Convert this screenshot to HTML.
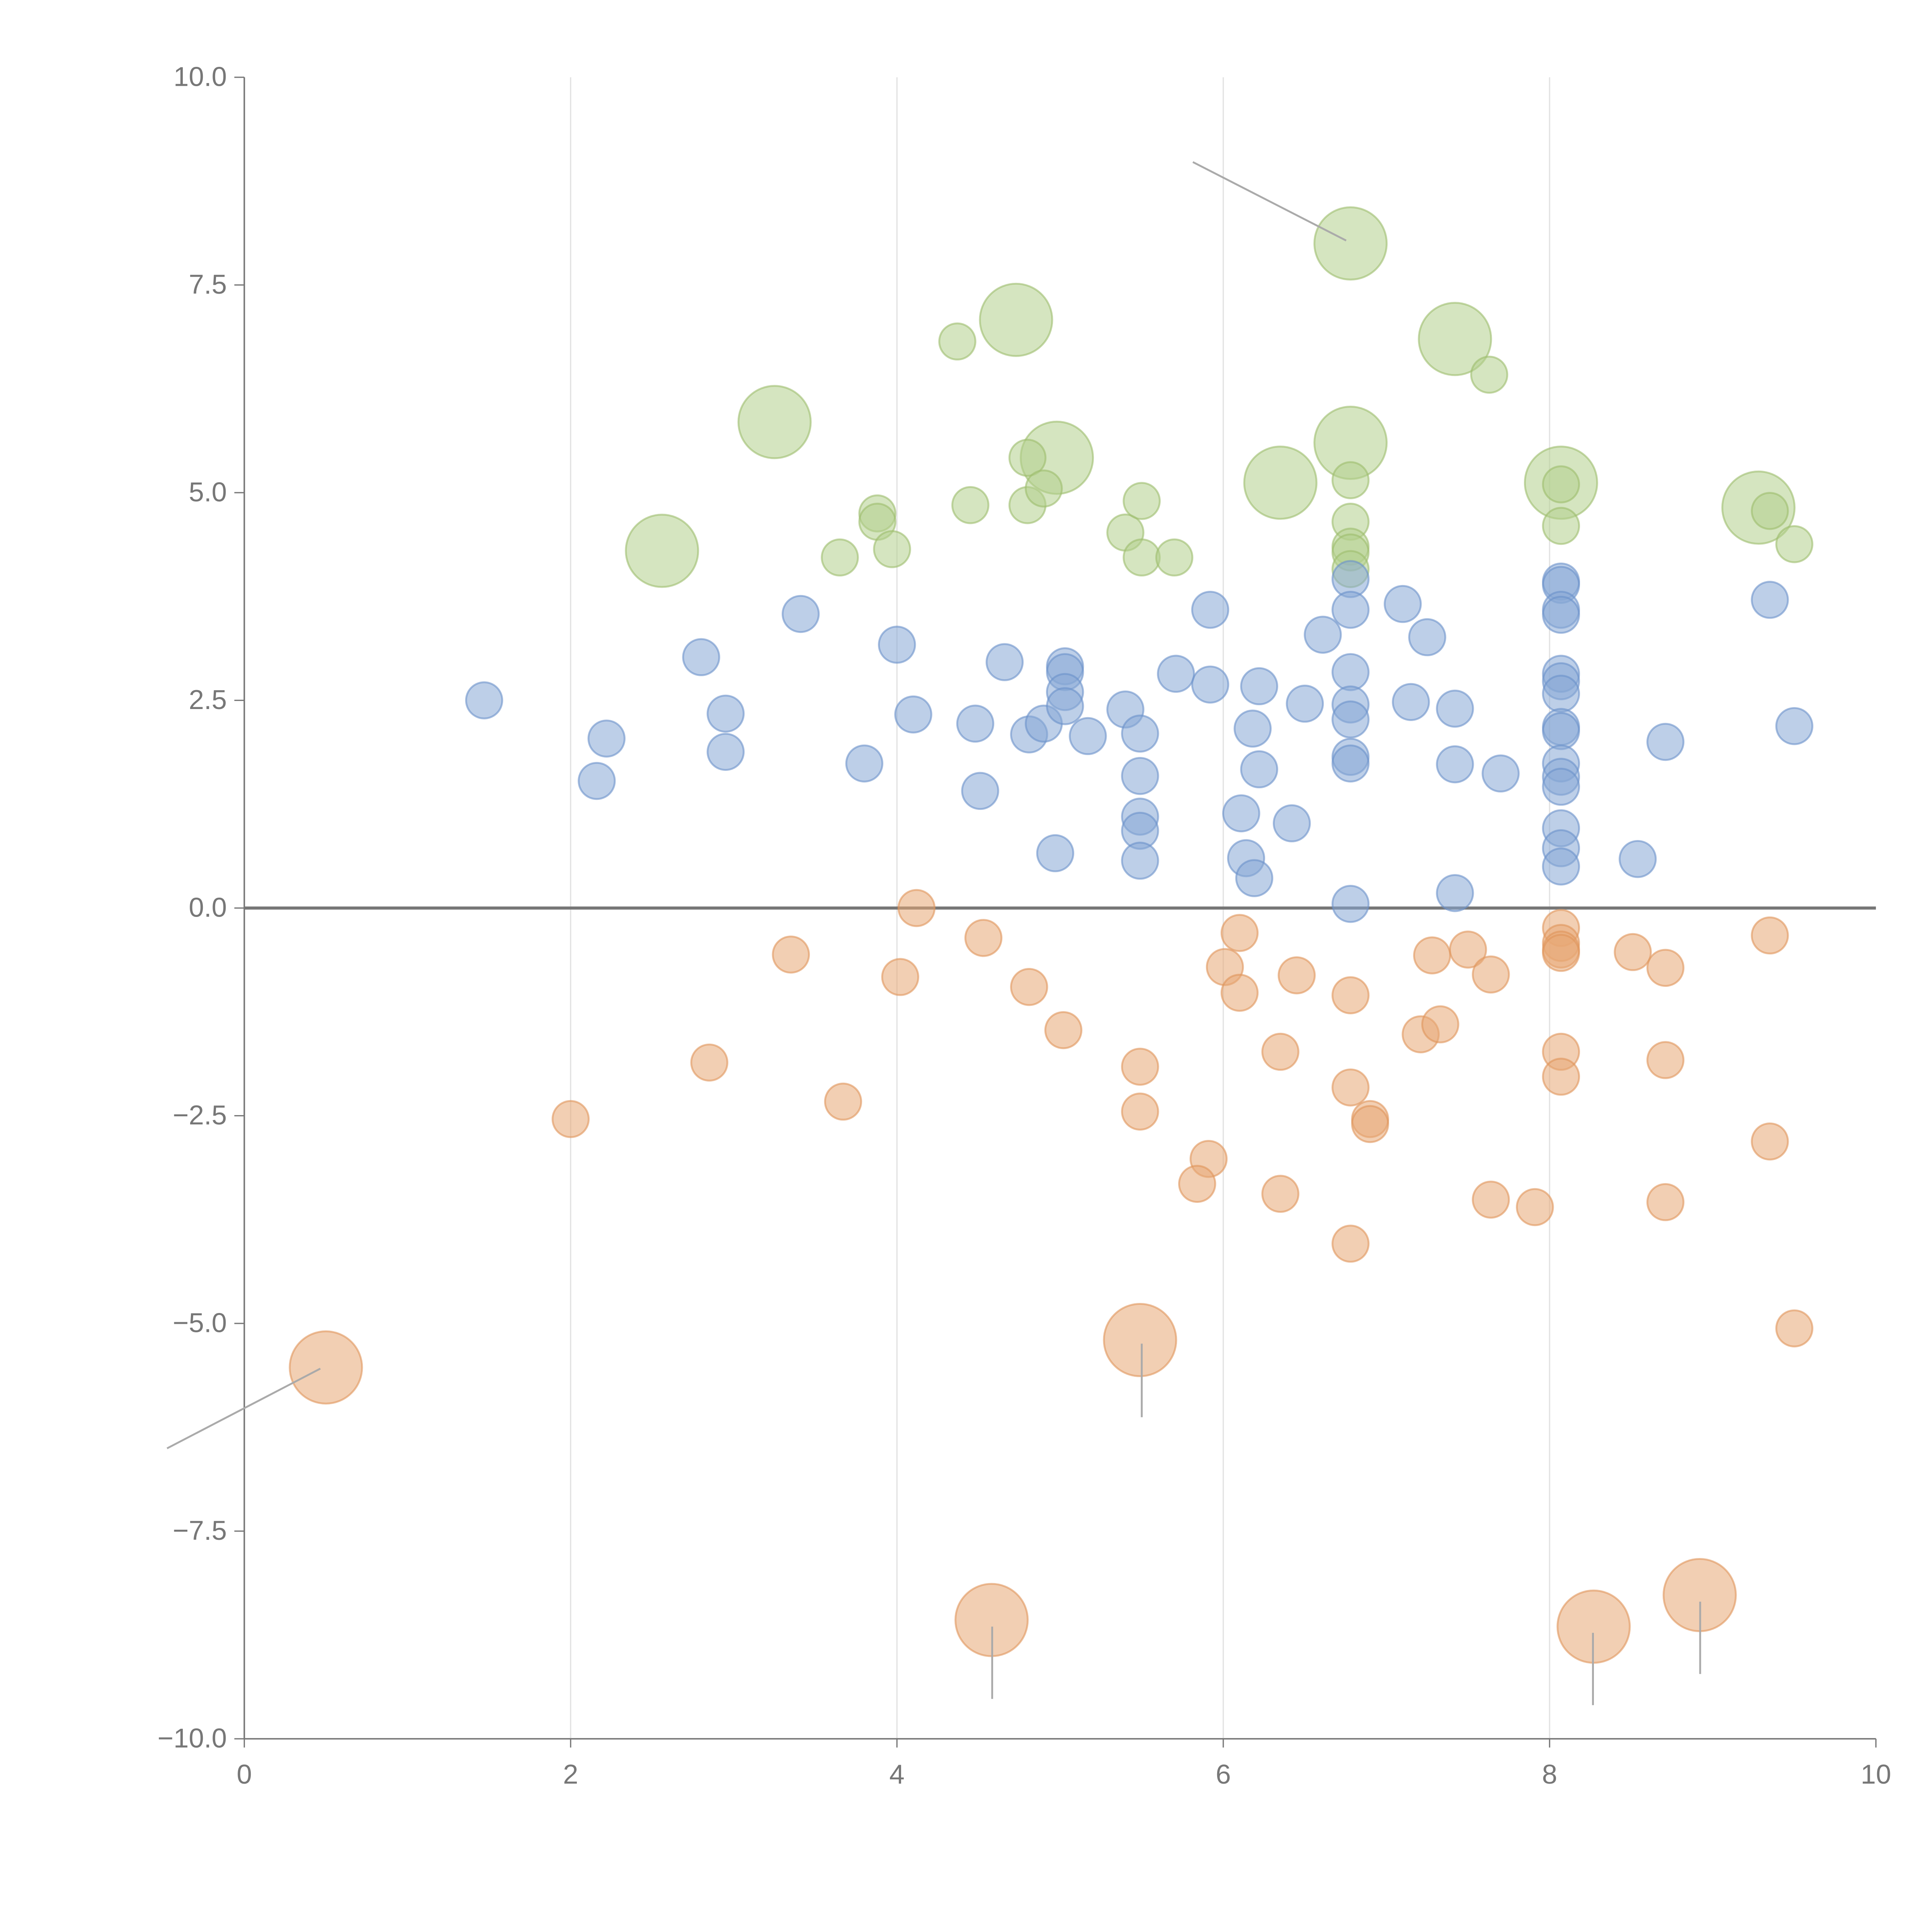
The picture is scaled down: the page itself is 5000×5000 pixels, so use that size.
<!DOCTYPE html>
<html><head><meta charset="utf-8"><style>html,body{margin:0;padding:0;background:#fff}svg{display:block}</style></head>
<body>
<svg id="chart" width="5000" height="5000" viewBox="0 0 1550 1550" xmlns="http://www.w3.org/2000/svg" font-family="Liberation Sans, sans-serif">
<g id="grid"></g>
<g id="axes"></g>
<g id="marks"></g>
<g id="leaders"></g>
</svg>
<script>
const xTicks=[0,2,4,6,8,10];
const yTicks=[10,7.5,5,2.5,0,-2.5,-5,-7.5,-10];
const yTickLabels=["10.0","7.5","5.0","2.5","0.0","\u22122.5","\u22125.0","\u22127.5","\u221210.0"];
const greenX=[2.56,3.25,4.73,4.98,6.35,6.78,6.78,7.42,8.07,9.28,3.65,3.88,3.88,3.97,4.37,4.45,4.8,4.8,4.9,5.4,5.5,5.5,5.7,6.78,6.78,6.78,6.78,6.78,7.63,8.07,8.07,9.35,9.5];
const greenY=[4.3,5.85,7.08,5.42,5.12,8.0,5.6,6.85,5.12,4.82,4.22,4.75,4.65,4.32,6.82,4.85,5.42,4.85,5.05,4.52,4.9,4.22,4.22,5.15,4.65,4.35,4.28,4.08,6.42,5.1,4.6,4.78,4.38];
const greenSize=[2,2,2,2,2,2,2,2,2,2,1,1,1,1,1,1,1,1,1,1,1,1,1,1,1,1,1,1,1,1,1,1,1];
const blueX=[1.47,2.22,2.16,2.8,2.95,2.95,3.41,3.8,4.0,4.1,4.48,4.51,4.66,4.81,4.9,5.03,5.03,5.03,5.03,5.17,4.97,5.4,5.49,5.49,5.49,5.49,5.49,5.71,5.92,5.92,6.11,6.14,6.19,6.18,6.22,6.22,6.42,6.5,6.61,6.78,6.78,6.78,6.78,6.78,6.78,6.78,6.78,7.1,7.15,7.25,7.42,7.42,7.42,7.7,8.07,8.07,8.07,8.07,8.07,8.07,8.07,8.07,8.07,8.07,8.07,8.07,8.07,8.07,8.07,8.54,8.71,9.35,9.5];
const blueY=[2.5,2.04,1.53,3.02,2.34,1.88,3.54,1.74,3.17,2.33,2.22,1.41,2.96,2.09,2.22,2.91,2.84,2.6,2.43,2.07,0.66,2.39,2.1,1.59,1.1,0.93,0.57,2.82,3.59,2.69,1.14,0.6,0.36,2.16,2.67,1.67,1.02,2.46,3.29,3.96,3.59,2.84,2.45,2.27,1.82,1.74,0.05,3.66,2.48,3.26,2.4,1.73,0.18,1.62,3.93,3.89,3.59,3.53,2.82,2.73,2.58,2.18,2.13,1.74,1.58,1.46,0.96,0.72,0.5,0.59,2.0,3.71,2.19];
const orangeX=[4.12,3.35,4.02,4.53,4.81,5.02,2.85,2.0,3.67,5.49,5.49,5.91,5.84,6.01,6.1,6.1,6.45,6.35,6.35,6.78,6.78,6.78,6.9,6.9,7.21,7.33,7.28,7.5,7.64,7.64,7.91,8.07,8.07,8.07,8.07,8.07,8.07,8.51,8.71,8.71,8.71,9.35,9.35,9.5,0.5,5.49,4.58,8.27,8.92];
const orangeY=[0,-0.56,-0.83,-0.36,-0.95,-1.47,-1.86,-2.54,-2.33,-1.91,-2.45,-3.02,-3.32,-0.71,-0.3,-1.02,-0.81,-1.73,-3.44,-1.05,-2.16,-4.04,-2.54,-2.6,-1.52,-1.4,-0.57,-0.5,-0.8,-3.51,-3.6,-0.24,-0.42,-0.5,-0.54,-1.73,-2.03,-0.53,-0.72,-1.83,-3.54,-0.33,-2.81,-5.06,-5.53,-5.2,-8.57,-8.65,-8.27];
const orangeSize=[1,1,1,1,1,1,1,1,1,1,1,1,1,1,1,1,1,1,1,1,1,1,1,1,1,1,1,1,1,1,1,1,1,1,1,1,1,1,1,1,1,1,1,1,2,2,2,2,2];

const L=196,R=1505,T=62,B=1395;
const sx=v=>L+(v-0)/10*(R-L);
const sy=v=>B-(v+10)/20*(B-T);
const NS="http://www.w3.org/2000/svg";
function mk(tag,attrs,parent){const e=document.createElementNS(NS,tag);for(const k in attrs)e.setAttribute(k,attrs[k]);parent.appendChild(e);return e;}
const grid=document.getElementById('grid'),axes=document.getElementById('axes'),marks=document.getElementById('marks'),leaders=document.getElementById('leaders');

xTicks.forEach(t=>{
  if(t>0&&t<10){const g=mk('line',{x1:sx(t),x2:sx(t),y1:T,y2:B,stroke:'#e2e2e2','stroke-width':1},grid);
  
  }
  const tk=mk('line',{x1:sx(t),x2:sx(t),y1:B,y2:B+7,stroke:'#777','stroke-width':1},axes);
  
  
  const lb=mk('text',{x:sx(t),y:B+36,'text-anchor':'middle','font-size':22,fill:'#777'},axes);
  lb.textContent=String(t);
  
  
});
yTicks.forEach((t,i)=>{
  const tk=mk('line',{x1:L-8,x2:L,y1:sy(t),y2:sy(t),stroke:'#777','stroke-width':1},axes);
  
  
  const lb=mk('text',{x:L-14,y:sy(t)+7,'text-anchor':'end','font-size':22,fill:'#777'},axes);
  lb.textContent=yTickLabels[i];
  
  
});
const ya=mk('line',{x1:L,x2:L,y1:T,y2:B,stroke:'#777','stroke-width':1.2},axes);


const xa=mk('line',{x1:L,x2:R,y1:B,y2:B,stroke:'#777','stroke-width':1.2},axes);


const zl=mk('line',{x1:L,x2:R,y1:sy(0),y2:sy(0),stroke:'#777','stroke-width':2.5},axes);



function series(xs,ys,sz,fill,stroke,name){
  xs.forEach((x,i)=>{
    const r=(sz?sz[i]:1)===2?29:14.5;
    const c=mk('circle',{cx:sx(x),cy:sy(ys[i]),r:r,fill:fill,'fill-opacity':0.55,stroke:stroke,'stroke-opacity':0.6,'stroke-width':1.5},marks);
    
    
  });
}
series(greenX,greenY,greenSize,'#b3cf8c','#9cbd6c','green-bubble');
series(blueX,blueY,null,'#87a8d6','#6b91c9','blue-bubble');
series(orangeX,orangeY,orangeSize,'#e8a874','#e0955a','orange-bubble');

const leaderLines=[[957,130,1080,193],[134,1162,257,1098],[916,1078,916,1137],[796,1305,796,1363],[1278,1310,1278,1368],[1364,1285,1364,1343]];
leaderLines.forEach(p=>{
  const l=mk('line',{x1:p[0],y1:p[1],x2:p[2],y2:p[3],stroke:'#aaa','stroke-width':1.5},leaders);
  
  
});
</script>
</body></html>
